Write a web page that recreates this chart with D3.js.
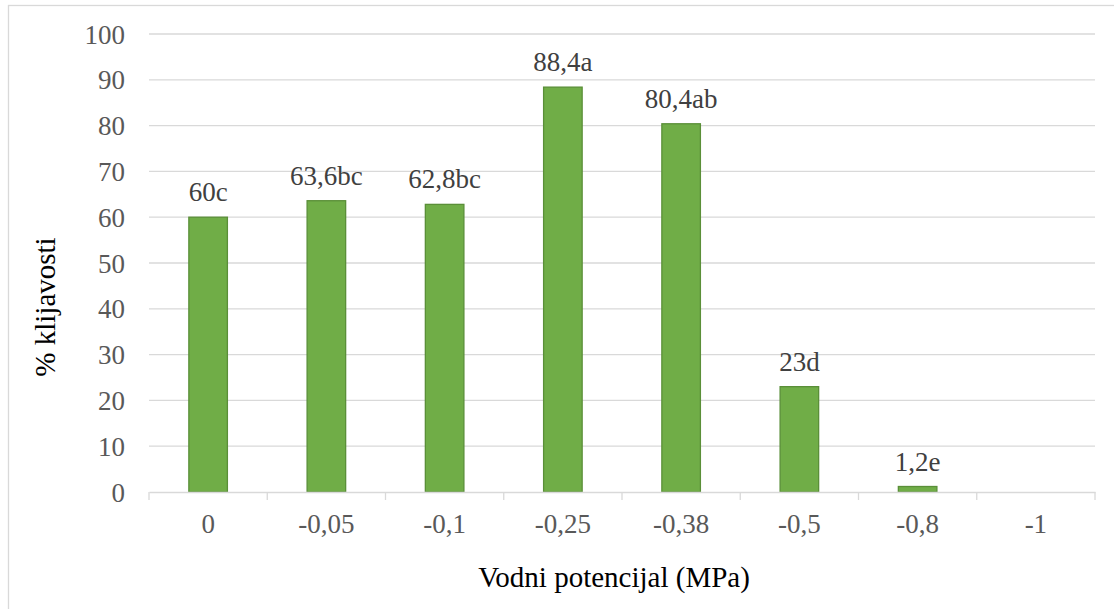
<!DOCTYPE html>
<html><head><meta charset="utf-8"><script src="https://cdn.jsdelivr.net/npm/d3@7"></script></head>
<body style="margin:0">
<svg id="s" width="1114" height="609"></svg>
<script>
const categories = ["0", "-0,05", "-0,1", "-0,25", "-0,38", "-0,5", "-0,8", "-1"];
const values = [60, 63.6, 62.8, 88.4, 80.4, 23, 1.2, 0];
const dataLabels = ["60c", "63,6bc", "62,8bc", "88,4a", "80,4ab", "23d", "1,2e", ""];
const yTicks = [0, 10, 20, 30, 40, 50, 60, 70, 80, 90, 100];
const xTitle = "Vodni potencijal (MPa)";
const yTitle = "% klijavosti";

const svg = d3.select("#s");
const W = 1114, H = 609;
const plot = { left: 149, right: 1095, top: 34, bottom: 492 };

function serif(sel, size) {
  return sel.attr("font-family", '"Times New Roman"')
    .attr("font-size", size)
    .attr("style", `font: ${size}px "Times New Roman", "Liberation Serif", serif`);
}

// outer chart border
svg.append("rect")
  .attr("x", 8.5).attr("y", 5.5)
  .attr("width", W + 20).attr("height", H + 20)
  .attr("fill", "#fff").attr("stroke", "#d9d9d9").attr("stroke-width", 1.3);

const x = d3.scaleBand().domain(categories).range([plot.left, plot.right]).paddingInner(0.674).paddingOuter(0.337);
const xb = d3.scaleBand().domain(categories).range([plot.left, plot.right]).padding(0);
const y = d3.scaleLinear().domain([0, 100]).range([plot.bottom, plot.top]);

// gridlines
svg.append("g")
  .selectAll("line").data(yTicks.filter(d => d > 0)).join("line")
  .attr("x1", plot.left).attr("x2", plot.right)
  .attr("y1", d => y(d)).attr("y2", d => y(d))
  .attr("stroke", "#d9d9d9").attr("stroke-width", 1.3);

// y axis labels
const yAxis = d3.axisLeft(y).tickValues(yTicks).tickSize(0).tickPadding(24).tickFormat(d3.format("d"));
const gy = svg.append("g").attr("transform", `translate(${plot.left},0)`).call(yAxis);
gy.attr("font-family", null).attr("font-size", null);
gy.select(".domain").remove();
serif(gy.selectAll("text"), 27).attr("fill", "#595959").attr("dy", "0.34em");

// bars
svg.append("g").selectAll("rect").data(values).join("rect")
  .attr("x", (d, i) => x(categories[i]))
  .attr("width", x.bandwidth())
  .attr("y", d => y(d))
  .attr("height", d => y(0) - y(d))
  .attr("fill", "#70ad47")
  .attr("stroke", d => d > 0 ? "#5a8f38" : "none")
  .attr("stroke-width", 1.3);

// x axis
const xAxis = d3.axisBottom(xb).tickSize(0).tickPadding(0);
const gx = svg.append("g").attr("transform", `translate(0,${plot.bottom})`).call(xAxis);
gx.attr("font-family", null).attr("font-size", null);
gx.select(".domain").attr("stroke", "#d9d9d9").attr("stroke-width", 1.3);
serif(gx.selectAll("text"), 27).attr("fill", "#595959").attr("y", 41).attr("dy", 0);
// tick marks at category boundaries
const bounds = categories.map(c => xb(c)).concat([plot.right]);
svg.append("g").selectAll("line").data(bounds).join("line")
  .attr("x1", d => d).attr("x2", d => d)
  .attr("y1", plot.bottom).attr("y2", plot.bottom + 8)
  .attr("stroke", "#d9d9d9").attr("stroke-width", 1.3);

// data labels
serif(svg.append("g").selectAll("text").data(values).join("text"), 27)
  .attr("x", (d, i) => x(categories[i]) + x.bandwidth() / 2)
  .attr("y", d => y(d) - 16)
  .attr("text-anchor", "middle")
  .attr("fill", "#404040")
  .text((d, i) => dataLabels[i]);

// axis titles
serif(svg.append("text"), 29)
  .attr("x", 614).attr("y", 587)
  .attr("text-anchor", "middle").attr("fill", "#000")
  .text(xTitle);

serif(svg.append("text"), 29)
  .attr("transform", "translate(55,307) rotate(-90)")
  .attr("text-anchor", "middle").attr("fill", "#000")
  .text(yTitle);
</script>
</body>
</html>
